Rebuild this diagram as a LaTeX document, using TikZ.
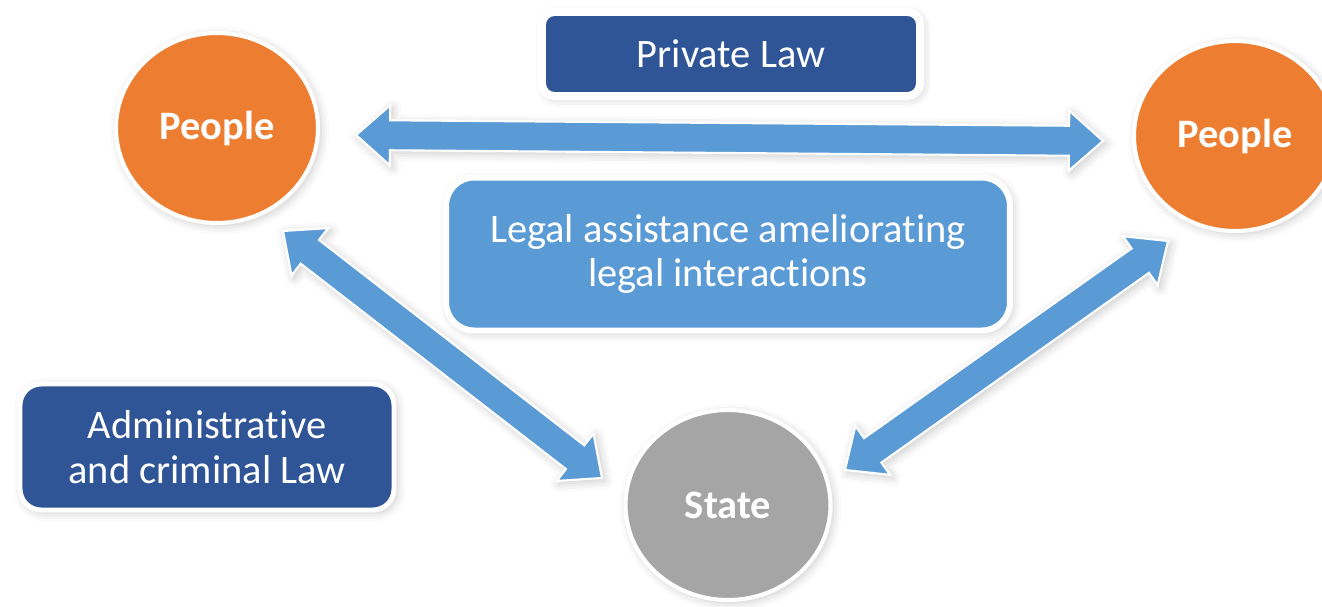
\documentclass[tikz,border=0pt]{standalone}
\usepackage{fontspec}
\setmainfont{Carlito}[Ligatures=NoCommon]
\usetikzlibrary{calc,positioning,shapes.geometric,shadows.blur}
\definecolor{people orange}{HTML}{ED7D31}
\definecolor{law navy}{HTML}{2F5597}
\definecolor{aid blue}{HTML}{5B9BD5}
\definecolor{state grey}{HTML}{A5A5A5}
\tikzset{
    soft shadow/.style={blur shadow={shadow xshift=1.5pt, shadow yshift=-1.5pt, shadow blur radius=5pt, shadow opacity=22}},
    round actor/.style={ellipse, draw=white, line width=2.3pt, minimum width=4.04cm, minimum height=3.8cm, text=white, font={\fontsize{23}{25.5}\selectfont\bfseries}, soft shadow},
    law box/.style={draw=white, text=white, align=center, font={\fontsize{23}{25.5}\selectfont}, soft shadow},
    twoway arrow/.style={fill=aid blue, draw=white, line width=1.2pt, line join=miter, soft shadow,
        to path={let \p1=($(\tikztotarget)-(\tikztostart)$), \n1={atan2(\y1,\x1)} in
            -- ($(\tikztostart)+(\n1:0.68cm)+(\n1+90:0.6cm)$)
            -- ($(\tikztostart)+(\n1:0.68cm)+(\n1+90:0.3cm)$)
            -- ($(\tikztotarget)+(\n1:-0.68cm)+(\n1+90:0.3cm)$)
            -- ($(\tikztotarget)+(\n1:-0.68cm)+(\n1+90:0.6cm)$)
            -- (\tikztotarget)
            -- ($(\tikztotarget)+(\n1:-0.68cm)+(\n1-90:0.6cm)$)
            -- ($(\tikztotarget)+(\n1:-0.68cm)+(\n1-90:0.3cm)$)
            -- ($(\tikztostart)+(\n1:0.68cm)+(\n1-90:0.3cm)$)
            -- ($(\tikztostart)+(\n1:0.68cm)+(\n1-90:0.6cm)$)
            -- cycle}},
}

\begin{document}
\begin{tikzpicture}[x=0.02cm, y=-0.02cm]
    \useasboundingbox (0,0) rectangle (1322,606);

    % actors
    \node[round actor, fill=people orange] (people left) at (217,128) {People};
    \node[round actor, fill=people orange] (people right) at (1235,136) {People};
    \node[round actor, fill=state grey, minimum width=4.1cm] (state) at (728,505) {State};

    % fields of law
    \node[law box, fill=law navy, line width=4.5pt, rounded corners=7pt, minimum width=7.56cm, minimum height=1.68cm] (private) at (731,54) {Private Law};
    \node[law box, fill=aid blue, line width=3.4pt, rounded corners=16pt, minimum width=11.28cm, minimum height=3.06cm] (assist) at (728,254) {Legal assistance ameliorating\\legal interactions};
    \node[law box, fill=law navy, line width=2.8pt, rounded corners=12pt, minimum width=7.48cm, minimum height=2.52cm] (admin) at (207,447) {Administrative\\and criminal Law};

    % arrow tips, a bit off the circles
    \coordinate (left east) at ($(people left)+(139,7)$);
    \coordinate (right west) at ($(people right)+(-132,5)$);
    \coordinate (left south) at ($(people left)+(66,103)$);
    \coordinate (state west) at ($(state)+(-126,-27)$);
    \coordinate (right south) at ($(people right)+(-67,105)$);
    \coordinate (state east) at ($(state)+(117,-35)$);

    \draw[twoway arrow] (left east) to (right west);
    \draw[twoway arrow] (left south) to (state west);
    \draw[twoway arrow] (right south) to (state east);
\end{tikzpicture}
\end{document}
